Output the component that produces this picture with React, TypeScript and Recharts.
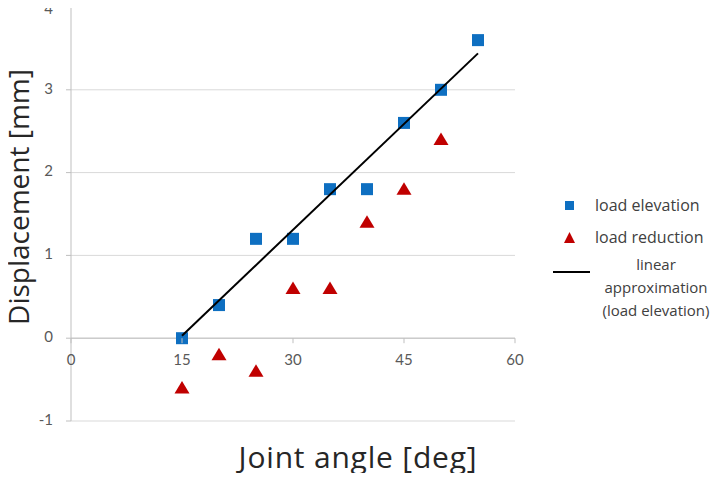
import React from 'react';
import {
  ScatterChart,
  Scatter,
  XAxis,
  YAxis,
  CartesianGrid,
  ReferenceLine,
  Label,
} from 'recharts';

// values
const elevationAngles = [15, 20, 25, 30, 35, 40, 45, 50, 55];
const elevationMm = [0, 0.4, 1.2, 1.2, 1.8, 1.8, 2.6, 3.0, 3.6];
const reductionAngles = [15, 20, 25, 30, 35, 40, 45, 50];
const reductionMm = [-0.6, -0.2, -0.4, 0.6, 0.6, 1.4, 1.8, 2.4];
const fitAngles = [15, 55];
const fitMm = [0.03, 3.44];
const xTicks = [0, 15, 30, 45, 60];
const yTicks = [-1, 0, 1, 2, 3, 4];

const elevation = elevationAngles.map((x, i) => ({ x, y: elevationMm[i] }));
const reduction = reductionAngles.map((x, i) => ({ x, y: reductionMm[i] }));
const fit = fitAngles.map((x, i) => ({ x, y: fitMm[i] }));

const W = 721;
const H = 481;
const TOP = 7;
const PLOT_H = 414;
const Y_MIN = -1;
const Y_MAX = 4;
const ZERO_Y = TOP + (PLOT_H * Y_MAX) / (Y_MAX - Y_MIN);

const BLUE = '#0e6fc1';
const RED = '#c00000';
const TICK_COLOR = '#595959';
const FONT = 'Lato, "Open Sans", sans-serif';
const TITLE_FONT = '"Open Sans", "Noto Sans", sans-serif';

const Square = (props: any) => {
  const { cx, cy } = props;
  return <rect x={cx - 6} y={cy - 6} width={12} height={12} fill={BLUE} />;
};

const Triangle = (props: any) => {
  const { cx, cy } = props;
  return (
    <polygon
      points={`${cx},${cy - 7} ${cx + 7.5},${cy + 5.5} ${cx - 7.5},${cy + 5.5}`}
      fill={RED}
    />
  );
};

const XTick = (props: any) => {
  const { x, payload } = props;
  return (
    <g>
      <line x1={x} y1={ZERO_Y} x2={x} y2={ZERO_Y + 5} stroke="#bfbfbf" />
      <text
        x={x}
        y={ZERO_Y + 23}
        textAnchor="middle"
        dominantBaseline="middle"
        fill={TICK_COLOR}
        fontSize={15}
        fontFamily={FONT}
      >
        {payload.value}
      </text>
    </g>
  );
};

// keeps the top label inside the picture, as the reference does
const YTick = (props: any) => {
  const { x, y, payload } = props;
  return (
    <text
      x={x}
      y={Math.max(y, 10)}
      textAnchor="end"
      dominantBaseline="middle"
      fill={TICK_COLOR}
      fontSize={15}
      fontFamily={FONT}
    >
      {payload.value}
    </text>
  );
};

const XTitle = () => (
  <text
    x={358}
    y={460}
    textAnchor="middle"
    dominantBaseline="middle"
    fill="#262626"
    fontSize={30}
    letterSpacing={0.8}
    fontFamily={TITLE_FONT}
  >
    Joint angle [deg]
  </text>
);

const YTitle = () => (
  <text
    x={22}
    y={197}
    transform="rotate(-90 22 197)"
    textAnchor="middle"
    dominantBaseline="middle"
    fill="#262626"
    fontSize={28}
    fontFamily={TITLE_FONT}
  >
    Displacement [mm]
  </text>
);

const legendText: React.CSSProperties = {
  position: 'absolute',
  fontFamily: TITLE_FONT,
  fontSize: 16,
  lineHeight: '20px',
  color: '#404040',
  whiteSpace: 'nowrap',
};

const App: React.FC = () => {
  return (
    <div style={{ position: 'relative', width: W, height: H, margin: -8, background: '#fff', overflow: 'hidden' }}>
      <ScatterChart width={W} height={H} margin={{ top: TOP, right: 206, left: 0, bottom: 0 }}>
        <CartesianGrid vertical={false} stroke="#d9d9d9" />
        <XAxis
          type="number"
          dataKey="x"
          domain={[0, 60]}
          ticks={xTicks}
          height={60}
          axisLine={false}
          tickLine={false}
          tick={<XTick />}
        >
          <Label content={<XTitle />} />
        </XAxis>
        <YAxis
          type="number"
          dataKey="y"
          domain={[Y_MIN, Y_MAX]}
          ticks={yTicks}
          width={71}
          stroke="#bfbfbf"
          tickSize={5}
          tickMargin={13}
          tick={<YTick />}
        >
          <Label content={<YTitle />} />
        </YAxis>
        <ReferenceLine y={0} stroke="#bfbfbf" />
        <Scatter data={elevation} shape={<Square />} isAnimationActive={false} />
        <Scatter
          data={fit}
          line={{ stroke: '#000', strokeWidth: 2 }}
          shape={() => <g />}
          isAnimationActive={false}
        />
        <Scatter data={reduction} shape={<Triangle />} isAnimationActive={false} />
      </ScatterChart>
      <div style={{ position: 'absolute', left: 565, top: 201, width: 9, height: 9, background: BLUE }} />
      <div style={{ ...legendText, left: 595, top: 195 }}>load elevation</div>
      <svg width={11} height={11} style={{ position: 'absolute', left: 564, top: 232 }}>
        <polygon points="5.5,0 11,11 0,11" fill={RED} />
      </svg>
      <div style={{ ...legendText, left: 595, top: 227 }}>load reduction</div>
      <div style={{ position: 'absolute', left: 553, top: 271, width: 37, height: 2, background: '#000' }} />
      <div
        style={{
          ...legendText,
          fontSize: 15,
          left: 594,
          top: 253,
          width: 124,
          textAlign: 'center',
          lineHeight: '23px',
        }}
      >
        linear
        <br />
        approximation
        <br />
        (load elevation)
      </div>
    </div>
  );
};

export default App;
